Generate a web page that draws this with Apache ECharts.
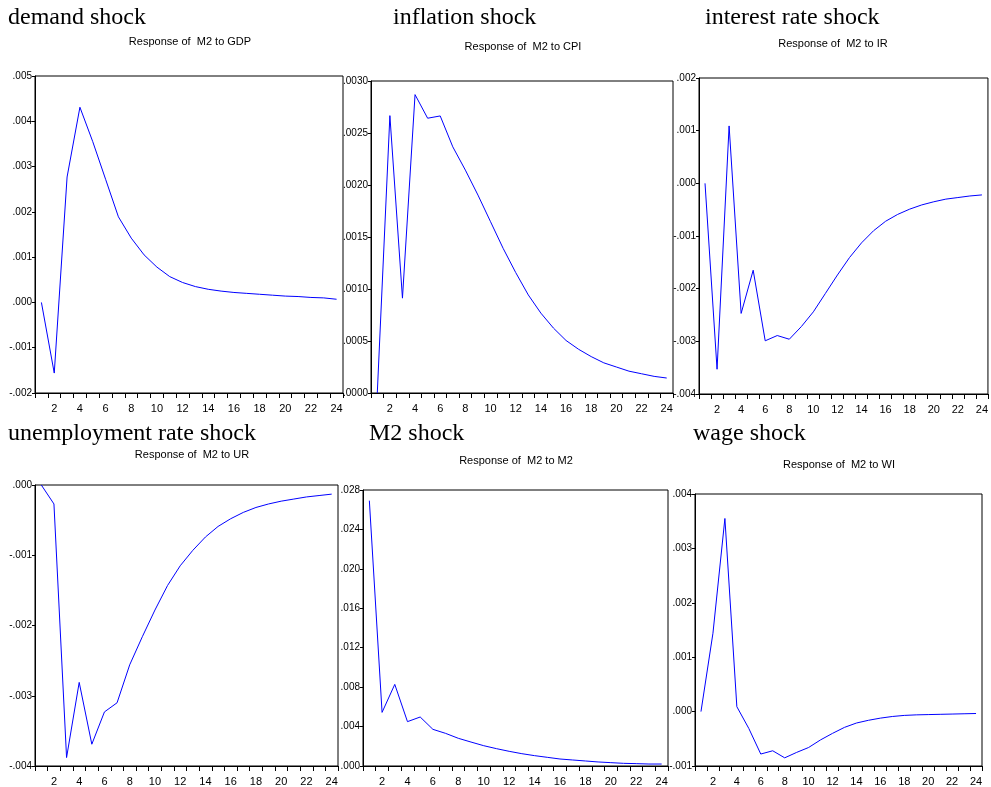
<!DOCTYPE html>
<html>
<head>
  <meta charset="utf-8">
  <style>
    html, body { margin: 0; height: 100%; background: #fff; }
    #container { width: 991px; height: 787px; }
  </style>
</head>
<body>
  <div id="container"></div>
  <script type="text/javascript" src="https://cdn.jsdelivr.net/npm/echarts@6/dist/echarts.min.js"></script>
  <script type="text/javascript">
    // impulse responses of M2, periods 1..24
    var periods = ['1','2','3','4','5','6','7','8','9','10','11','12','13','14','15','16','17','18','19','20','21','22','23','24'];

    var toGDP = [0, -0.00156, 0.00277, 0.00431, 0.00355, 0.00272, 0.00189, 0.00142, 0.00105, 0.00078,
      0.00057, 0.00044, 0.00035, 0.00029, 0.00025, 0.00022, 0.00020, 0.00018, 0.00016, 0.00014,
      0.00013, 0.00011, 0.00010, 0.00007];
    var toCPI = [0, 0.002667, 0.000912, 0.002869, 0.002642, 0.002664, 0.002367, 0.002143, 0.001903, 0.001647,
      0.001391, 0.001158, 0.000943, 0.000768, 0.000624, 0.000505, 0.000420, 0.000350, 0.000290, 0.000250,
      0.000210, 0.000185, 0.000160, 0.000144];
    var toIR = [0, -0.00353, 0.00109, -0.00247, -0.00165, -0.00299, -0.00289, -0.00296, -0.00272, -0.00244,
      -0.00209, -0.00174, -0.00141, -0.00113, -0.00090, -0.00072, -0.00059, -0.00049, -0.00041, -0.00035,
      -0.00030, -0.00027, -0.00024, -0.00022];
    var toUR = [0, -0.00027, -0.00388, -0.00281, -0.00369, -0.00323, -0.00310, -0.00256, -0.00216, -0.00178,
      -0.00143, -0.00115, -0.00093, -0.00074, -0.00059, -0.00048, -0.00039, -0.00032, -0.00027, -0.00023,
      -0.00020, -0.00017, -0.00015, -0.00013];
    var toM2 = [0.02692, 0.00544, 0.00828, 0.00450, 0.00497, 0.00372, 0.00331, 0.00281, 0.00243, 0.00206,
      0.00176, 0.00149, 0.00125, 0.00105, 0.00088, 0.00071, 0.00061, 0.00051, 0.00041, 0.00034,
      0.00027, 0.00024, 0.00020, 0.00020];
    var toWI = [0, 0.00144, 0.00355, 0.00009, -0.00031, -0.00078, -0.00072, -0.00085, -0.00075, -0.00066,
      -0.00052, -0.00040, -0.00029, -0.00021, -0.00016, -0.00012, -0.00009, -0.00007, -0.00006, -0.000055,
      -0.00005, -0.000045, -0.00004, -0.000035];

    var shockNames = ['demand shock', 'inflation shock', 'interest rate shock', 'unemployment rate shock', 'M2 shock', 'wage shock'];
    var subTitles = ['Response of  M2 to GDP', 'Response of  M2 to CPI', 'Response of  M2 to IR',
      'Response of  M2 to UR', 'Response of  M2 to M2', 'Response of  M2 to WI'];
    var yMin = [-0.002, 0, -0.004, -0.004, 0, -0.001];
    var yMax = [0.005, 0.003, 0.002, 0, 0.028, 0.004];
    var yStep = [0.001, 0.0005, 0.001, 0.001, 0.004, 0.001];
    var yDigits = [3, 4, 3, 3, 3, 3];
    var seriesData = [toGDP, toCPI, toIR, toUR, toM2, toWI];

    // layout of the six panels
    var panels = [
      { left: 35, top: 76, width: 308, height: 317, shockX: 8, shockY: 6, subX: 190, subY: 36 },
      { left: 371, top: 81, width: 302, height: 312, shockX: 393, shockY: 6, subX: 523, subY: 41 },
      { left: 699, top: 78, width: 291, height: 316, shockX: 705, shockY: 6, subX: 833, subY: 38 },
      { left: 35, top: 485, width: 303, height: 281, shockX: 8, shockY: 422, subX: 192, subY: 449 },
      { left: 363, top: 490, width: 305, height: 276, shockX: 369, shockY: 422, subX: 516, subY: 455 },
      { left: 695, top: 494, width: 287, height: 272, shockX: 693, shockY: 422, subX: 839, subY: 459 }
    ];

    var narrow = "'Liberation Sans Narrow', 'Arial Narrow', 'Liberation Sans', sans-serif";

    var dom = document.getElementById('container');
    var myChart = echarts.init(dom, null, { renderer: 'canvas' });

    var titles = [], grids = [], xAxes = [], yAxes = [], series = [];
    panels.forEach(function (p, i) {
      titles.push({
        text: shockNames[i], left: p.shockX, top: p.shockY, padding: 0,
        textStyle: { fontFamily: "'Liberation Serif', 'Times New Roman', serif", fontSize: 24, fontWeight: 'normal', color: '#000', lineHeight: 24 }
      });
      titles.push({
        text: subTitles[i], left: p.subX, top: p.subY, padding: 0, textAlign: 'center',
        textStyle: { fontFamily: narrow, fontSize: 11, fontWeight: 'normal', color: '#000', lineHeight: 12 }
      });
      grids.push({
        left: p.left, top: p.top, width: p.width, height: p.height,
        show: true, borderColor: '#000', borderWidth: 1, backgroundColor: '#fff'
      });
      xAxes.push({
        type: 'category', gridIndex: i, data: periods, boundaryGap: true,
        axisLine: { show: true, onZero: false, lineStyle: { color: '#000', width: 1 } },
        axisTick: { show: true, interval: 0, length: 5, lineStyle: { color: '#000' } },
        axisLabel: {
          interval: function (idx) { return idx % 2 === 1; },
          fontFamily: narrow, fontSize: 11, color: '#000', margin: 10
        },
        splitLine: { show: false }
      });
      yAxes.push({
        type: 'value', gridIndex: i, min: yMin[i], max: yMax[i], interval: yStep[i],
        axisLine: { show: true, onZero: false, lineStyle: { color: '#000', width: 1 } },
        axisTick: { show: true, length: 3, lineStyle: { color: '#000' } },
        axisLabel: {
          fontFamily: narrow, fontSize: 10, color: '#000', margin: 3,
          formatter: (function (d) {
            return function (v) { return v.toFixed(d).replace('0.', '.'); };
          })(yDigits[i])
        },
        splitLine: { show: false }
      });
      series.push({
        type: 'line', xAxisIndex: i, yAxisIndex: i, data: seriesData[i],
        symbol: 'none', lineStyle: { color: '#0000ff', width: 1 }, silent: true, animation: false
      });
    });

    var option = {
      backgroundColor: '#fff',
      animation: false,
      title: titles,
      grid: grids,
      xAxis: xAxes,
      yAxis: yAxes,
      series: series
    };

    if (option && typeof option === 'object') {
      myChart.setOption(option);
    }
    window.addEventListener('resize', myChart.resize);
  </script>
</body>
</html>
